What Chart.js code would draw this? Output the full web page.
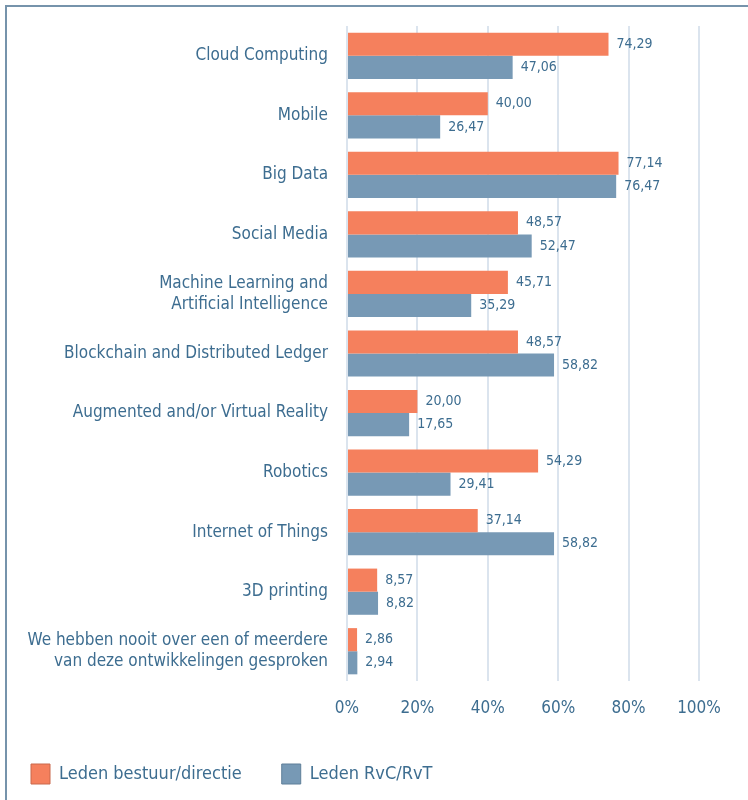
<!DOCTYPE html>
<html>
<head>
<meta charset="utf-8">
<script src="https://cdn.jsdelivr.net/npm/chart.js@4"></script>
<style>
  html, body { margin: 0; padding: 0; background: #fff; }
  #wrap { width: 748px; height: 800px; }
</style>
</head>
<body>
<div id="wrap"><canvas id="chart" width="748" height="800"></canvas></div>
<script>
const categories = [
  'Cloud Computing',
  'Mobile',
  'Big Data',
  'Social Media',
  ['Machine Learning and', 'Artificial Intelligence'],
  'Blockchain and Distributed Ledger',
  'Augmented and/or Virtual Reality',
  'Robotics',
  'Internet of Things',
  '3D printing',
  ['We hebben nooit over een of meerdere', 'van deze ontwikkelingen gesproken']
];
const bestuurValues = [74.29, 40.00, 77.14, 48.57, 45.71, 48.57, 20.00, 54.29, 37.14, 8.57, 2.86];
const rvcValues = [47.06, 26.47, 76.47, 52.47, 35.29, 58.82, 17.65, 29.41, 58.82, 8.82, 2.94];
const seriesNames = ['Leden bestuur/directie', 'Leden RvC/RvT'];
const xTicks = [0, 20, 40, 60, 80, 100];

const FONT = '"Liberation Sans Narrow", "DejaVu Sans Condensed", sans-serif';
const TEXT = '#3d6d90';

// thin frame round the whole figure
const framePlugin = {
  id: 'frame',
  beforeDraw(chart) {
    const ctx = chart.ctx;
    ctx.save();
    ctx.strokeStyle = '#7693ab';
    ctx.lineWidth = 2;
    ctx.strokeRect(6, 6, 800, 900);
    ctx.restore();
  }
};

// value labels right of each bar, dutch decimal comma
const valueLabels = {
  id: 'valueLabels',
  afterDatasetsDraw(chart) {
    const ctx = chart.ctx;
    ctx.save();
    ctx.font = '14px ' + FONT;
    ctx.fillStyle = TEXT;
    ctx.textAlign = 'left';
    ctx.textBaseline = 'middle';
    chart.data.datasets.forEach((ds, i) => {
      chart.getDatasetMeta(i).data.forEach((bar, j) => {
        ctx.fillText(ds.data[j].toFixed(2).replace('.', ','), bar.x + 8, bar.y);
      });
    });
    ctx.restore();
  }
};

new Chart(document.getElementById('chart'), {
  type: 'bar',
  data: {
    labels: categories,
    datasets: [
      { label: seriesNames[0], data: bestuurValues, backgroundColor: '#f5805d', borderColor: '#c9684c', borderWidth: 0 },
      { label: seriesNames[1], data: rvcValues, backgroundColor: '#7799b5', borderColor: '#5f7f99', borderWidth: 0 }
    ]
  },
  options: {
    indexAxis: 'y',
    responsive: false,
    animation: false,
    categoryPercentage: 0.776,
    barPercentage: 1,
    layout: { autoPadding: false, padding: { top: 26, right: 49, bottom: 6, left: -9 } },
    scales: {
      x: {
        min: 0,
        max: 100,
        afterBuildTicks: (axis) => { axis.ticks = xTicks.map(v => ({ value: v })); },
        afterFit: (axis) => { axis.height = 43; },
        grid: { color: '#dbe4ee', lineWidth: 2, drawTicks: false },
        border: { display: false },
        ticks: {
          padding: 17,
          color: TEXT,
          font: { family: FONT, size: 17 },
          callback: (v) => v + '%'
        }
      },
      y: {
        afterFit: (axis) => {
          axis.width = 356;
          axis.paddingTop = 0;
          axis.paddingBottom = 0;
        },
        grid: { display: false },
        border: { display: false },
        ticks: {
          padding: 11,
          color: TEXT,
          font: { family: FONT, size: 17, lineHeight: 1.25 }
        }
      }
    },
    plugins: {
      tooltip: { enabled: false },
      legend: {
        position: 'bottom',
        align: 'start',
        labels: {
          boxWidth: 19,
          boxHeight: 20,
          padding: 40,
          color: TEXT,
          font: { family: FONT, size: 18 },
          generateLabels: (chart) => chart.data.datasets.map((ds, i) => ({
            text: ds.label,
            fillStyle: ds.backgroundColor,
            strokeStyle: ds.borderColor,
            lineWidth: 1,
            datasetIndex: i,
            fontColor: TEXT
          }))
        }
      }
    }
  },
  plugins: [framePlugin, valueLabels]
});
</script>
</body>
</html>
